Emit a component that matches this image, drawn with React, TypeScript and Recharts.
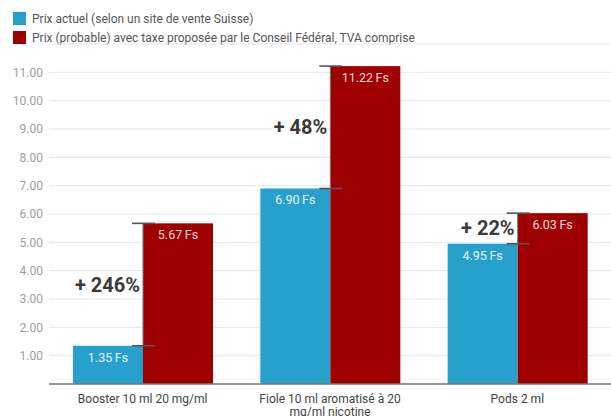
import { BarChart, Bar, XAxis, YAxis, CartesianGrid, LabelList } from 'recharts'

const categories = ['Booster 10 ml 20 mg/ml', 'Fiole 10 ml aromatisé à 20 mg/ml nicotine', 'Pods 2 ml']
const currentPrices = [1.35, 6.9, 4.95]
const taxedPrices = [5.67, 11.22, 6.03]
const increases = ['+ 246%', '+ 48%', '+ 22%']
const yTicks = [1, 2, 3, 4, 5, 6, 7, 8, 9, 10, 11]

const seriesNames = [
  'Prix actuel (selon un site de vente Suisse)',
  'Prix (probable) avec taxe proposée par le Conseil Fédéral, TVA comprise',
]

const BLUE = '#27a1cc'
const RED = '#9e0000'
const FONT = 'Roboto, Arial, sans-serif'

const data = categories.map((name, i) => ({
  name,
  current: currentPrices[i],
  taxed: taxedPrices[i],
  increase: increases[i],
}))

const formatPrice = (v: number) => `${v.toFixed(2)}\u2009Fs`

// simple word wrap for the category labels
const wrap = (s: string, max = 27) => {
  const lines: string[] = []
  let cur = ''
  s.split(' ').forEach(w => {
    const next = cur ? cur + ' ' + w : w
    if (next.length > max && cur) {
      lines.push(cur)
      cur = w
    } else {
      cur = next
    }
  })
  if (cur) lines.push(cur)
  return lines
}

// red bar + the caps / increase label drawn at the boundary with the blue bar
const TaxedShape = (props: any) => {
  const { x, y, width, height, payload } = props
  const ppu = height / payload.taxed
  const blueY = y + height - payload.current * ppu
  const midY = (y + blueY) / 2
  const labelW = payload.increase.length * 11
  return (
    <g>
      <rect x={x} y={y} width={width} height={height} fill={RED} />
      <line x1={x} x2={x} y1={y} y2={blueY} stroke="#777" strokeWidth={1} />
      <line x1={x - 11} x2={x + 12} y1={y} y2={y} stroke="#555" strokeWidth={1.6} />
      <line x1={x - 11} x2={x + 12} y1={blueY} y2={blueY} stroke="#555" strokeWidth={1.6} />
      <rect x={x - 4 - labelW} y={midY - 10} width={labelW} height={20} fill="#fff" />
      <text
        x={x - 3}
        y={midY}
        textAnchor="end"
        dominantBaseline="central"
        fontFamily={FONT}
        fontSize={20}
        fontWeight="bold"
        fill="#3a3a3a"
      >
        {payload.increase}
      </text>
    </g>
  )
}

const CategoryTick = (props: any) => {
  const { x, y, payload } = props
  return (
    <text x={x} y={y} textAnchor="middle" fontFamily={FONT} fontSize={12} fill="#444">
      {wrap(payload.value).map((line, i) => (
        <tspan key={i} x={x} dy={i === 0 ? '0.9em' : 13}>
          {line}
        </tspan>
      ))}
    </text>
  )
}

export default function App() {
  return (
    <div style={{ position: 'absolute', left: 0, top: 0, width: 611, height: 416, background: '#fff' }}>
      <div style={{ position: 'absolute', left: 13, top: 9, fontFamily: FONT, fontSize: 12, color: '#555' }}>
        {seriesNames.map((n, i) => (
          <div key={n} style={{ display: 'flex', alignItems: 'center', height: 19 }}>
            <div style={{ width: 13, height: 13, background: i === 0 ? BLUE : RED, marginRight: 6 }} />
            <span>{n}</span>
          </div>
        ))}
      </div>
      <BarChart
        width={611}
        height={416}
        data={data}
        margin={{ top: 44, right: 0, bottom: 0, left: 0 }}
        barCategoryGap={24}
        barGap={0}
      >
        <CartesianGrid vertical={false} stroke="#e6e6e6" />
        <XAxis
          dataKey="name"
          height={32}
          tickLine={false}
          axisLine={{ stroke: '#777', strokeWidth: 1.5 }}
          tick={<CategoryTick />}
          interval={0}
        />
        <YAxis
          width={49}
          domain={[0, 12]}
          ticks={yTicks}
          tickFormatter={(v: number) => v.toFixed(2)}
          tickLine={false}
          axisLine={false}
          tickSize={0}
          tickMargin={6}
          tick={{ fontSize: 12, fill: '#9e9e9e', fontFamily: FONT }}
        />
        <Bar dataKey="current" name={seriesNames[0]} fill={BLUE} isAnimationActive={false}>
          <LabelList
            dataKey="current"
            position="insideTop"
            offset={7}
            formatter={(v: number) => formatPrice(v)}
            style={{ fontSize: 12.5, fill: '#e6f4fa', fontFamily: FONT }}
          />
        </Bar>
        <Bar dataKey="taxed" name={seriesNames[1]} fill={RED} shape={<TaxedShape />} isAnimationActive={false}>
          <LabelList
            dataKey="taxed"
            position="insideTop"
            offset={7}
            formatter={(v: number) => formatPrice(v)}
            style={{ fontSize: 12.5, fill: '#f3dada', fontFamily: FONT }}
          />
        </Bar>
      </BarChart>
    </div>
  )
}
